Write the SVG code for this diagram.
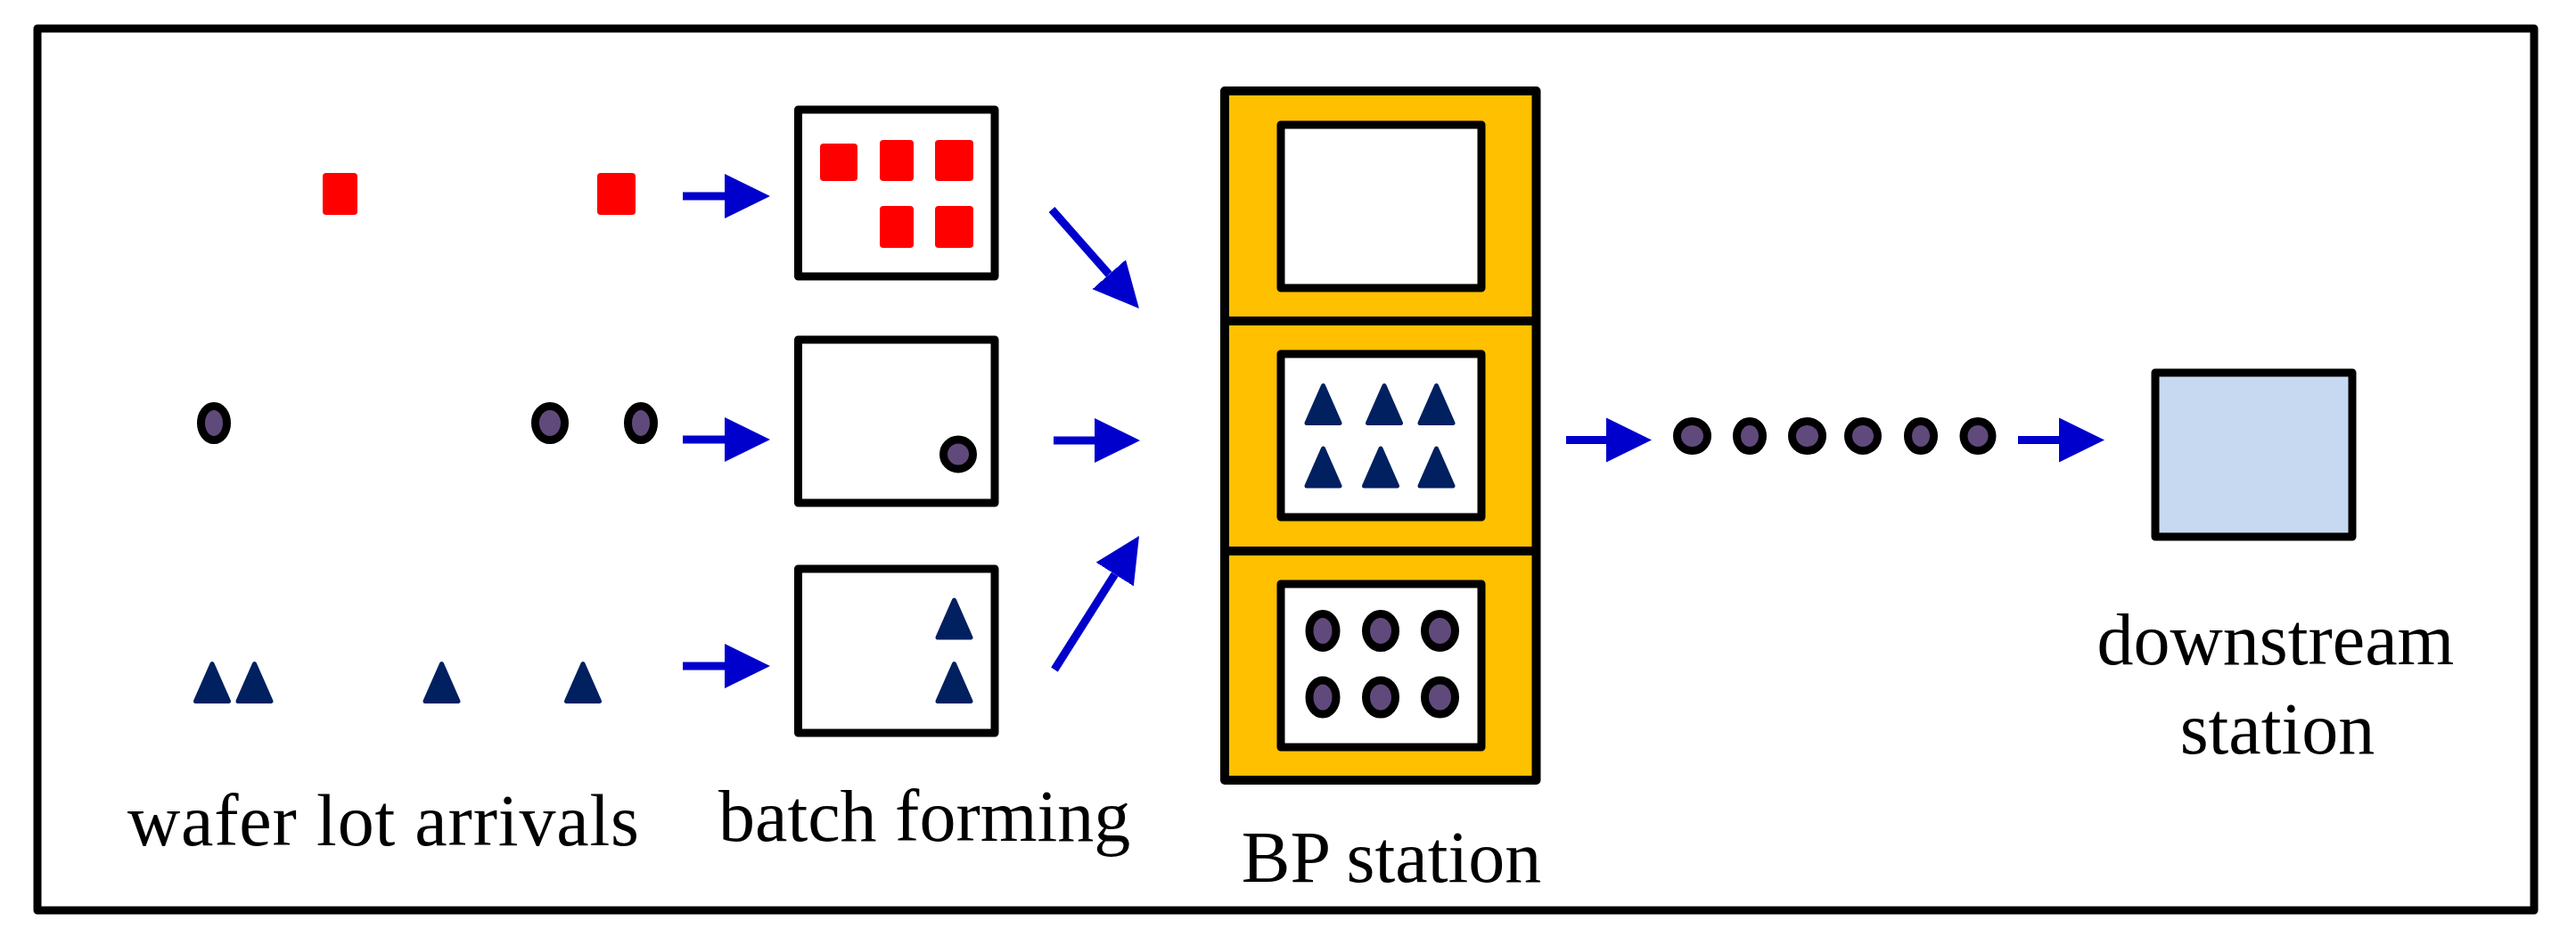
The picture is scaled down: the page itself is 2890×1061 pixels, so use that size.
<svg xmlns="http://www.w3.org/2000/svg" xmlns:xlink="http://www.w3.org/1999/xlink" width="2890" height="1061" viewBox="0 0 2890 1061">
<style>
.box{fill:#FFFFFF;stroke:#000;stroke-width:9;stroke-linejoin:round}
.red{fill:#FF0000}
.lot{fill:#604A7B;stroke:#000;stroke-width:9}
.tri{fill:#002060;stroke:#002060;stroke-width:5;stroke-linejoin:round}
.arr{stroke:#0000CC;stroke-width:9;fill:none;marker-end:url(#ah)}
.lbl{font-family:"Liberation Serif","Times New Roman",serif;font-size:82px;fill:#000}
</style>
<defs>
<marker id="ah" markerUnits="userSpaceOnUse" markerWidth="52" markerHeight="52" refX="0" refY="25" orient="auto" viewBox="0 0 52 50">
<path d="M0,0 L51,25 L0,50 Z" fill="#0000CC"/>
</marker>
<path id="tri" class="tri" d="M0,-21 L18.5,21 L-18.5,21 Z"/>
</defs>
<rect x="0" y="0" width="2890" height="1061" fill="#FFFFFF"/>
<rect id="frame" x="42" y="32" width="2801" height="989" fill="none" stroke="#000" stroke-width="9" stroke-linejoin="round"/>

<g id="arrivals-red">
<rect class="red" x="362" y="194" width="39" height="47" rx="4"/>
<rect class="red" x="670" y="194" width="43" height="47" rx="4"/>
</g>
<g id="arrivals-circle">
<ellipse class="lot" cx="240" cy="474.5" rx="14.5" ry="19"/>
<ellipse class="lot" cx="617" cy="474.5" rx="16.5" ry="19"/>
<ellipse class="lot" cx="719" cy="474.5" rx="14.5" ry="19"/>
</g>
<g id="arrivals-triangle">
<use xlink:href="#tri" x="238" y="765.5"/>
<use xlink:href="#tri" x="285.5" y="765.5"/>
<use xlink:href="#tri" x="495.5" y="765.5"/>
<use xlink:href="#tri" x="654" y="765.5"/>
</g>

<g id="batch1">
<rect class="box" x="895.5" y="123" width="220.5" height="187"/>
<rect class="red" x="920" y="161" width="42" height="42" rx="4"/>
<rect class="red" x="987" y="157" width="38" height="46" rx="4"/>
<rect class="red" x="1049" y="157" width="43" height="46" rx="4"/>
<rect class="red" x="987" y="231" width="38" height="47" rx="4"/>
<rect class="red" x="1049" y="231" width="43" height="47" rx="4"/>
</g>
<g id="batch2">
<rect class="box" x="895.5" y="381" width="220.5" height="183"/>
<ellipse class="lot" cx="1075" cy="509.5" rx="16.5" ry="16.5"/>
</g>
<g id="batch3">
<rect class="box" x="895.5" y="638" width="220.5" height="184"/>
<use xlink:href="#tri" x="1070.5" y="694"/>
<use xlink:href="#tri" x="1070.5" y="765.5"/>
</g>

<g id="bp-station">
<rect x="1374" y="102" width="349.5" height="773" fill="#FFC000" stroke="#000" stroke-width="10" stroke-linejoin="round"/>
<line x1="1374" y1="360" x2="1723.5" y2="360" stroke="#000" stroke-width="10"/>
<line x1="1374" y1="618" x2="1723.5" y2="618" stroke="#000" stroke-width="10"/>
<rect class="box" x="1437" y="140" width="225" height="183"/>
<rect class="box" x="1437" y="397" width="225" height="183"/>
<rect class="box" x="1437" y="655" width="225" height="183"/>
<use xlink:href="#tri" x="1484.5" y="453.5"/>
<use xlink:href="#tri" x="1553" y="453.5"/>
<use xlink:href="#tri" x="1611.5" y="453.5"/>
<use xlink:href="#tri" x="1484.5" y="524"/>
<use xlink:href="#tri" x="1549" y="524"/>
<use xlink:href="#tri" x="1611.5" y="524"/>
<ellipse class="lot" cx="1484" cy="707.5" rx="15" ry="19"/>
<ellipse class="lot" cx="1549" cy="707.5" rx="16.5" ry="19"/>
<ellipse class="lot" cx="1615.5" cy="707.5" rx="17" ry="19"/>
<ellipse class="lot" cx="1484" cy="782" rx="15" ry="19"/>
<ellipse class="lot" cx="1549" cy="782" rx="16.5" ry="19"/>
<ellipse class="lot" cx="1615.5" cy="782" rx="17" ry="19"/>
</g>

<g id="queue">
<ellipse class="lot" cx="1898.5" cy="489" rx="17" ry="16.5"/>
<ellipse class="lot" cx="1963" cy="489" rx="14.5" ry="16.5"/>
<ellipse class="lot" cx="2027.5" cy="489" rx="17" ry="16.5"/>
<ellipse class="lot" cx="2090" cy="489" rx="16.5" ry="16.5"/>
<ellipse class="lot" cx="2155" cy="489" rx="14.5" ry="16.5"/>
<ellipse class="lot" cx="2219" cy="489" rx="16" ry="16.5"/>
</g>

<g id="downstream">
<rect x="2418" y="418" width="221" height="184" fill="#C6D9F0" stroke="#000" stroke-width="9" stroke-linejoin="round"/>
</g>

<g id="connectors">
<line class="arr" x1="766" y1="220" x2="813" y2="220"/>
<line class="arr" x1="766" y1="493" x2="813" y2="493"/>
<line class="arr" x1="766" y1="747" x2="813" y2="747"/>
<line class="arr" x1="1180" y1="235" x2="1244.2" y2="307.8"/>
<line class="arr" x1="1182" y1="494" x2="1228" y2="494"/>
<line class="arr" x1="1183" y1="751" x2="1250.7" y2="644.1"/>
<line class="arr" x1="1757" y1="493.5" x2="1802" y2="493.5"/>
<line class="arr" x1="2264" y1="493.5" x2="2310" y2="493.5"/>
</g>

<g id="labels">
<text class="lbl" x="143" y="948" textLength="574" lengthAdjust="spacing">wafer lot arrivals</text>
<text class="lbl" x="806" y="943">batch forming</text>
<text class="lbl" x="1561" y="989" text-anchor="middle">BP station</text>
<text class="lbl" x="2553" y="745" text-anchor="middle">downstream</text>
<text class="lbl" x="2555" y="845" text-anchor="middle">station</text>
</g>
</svg>
